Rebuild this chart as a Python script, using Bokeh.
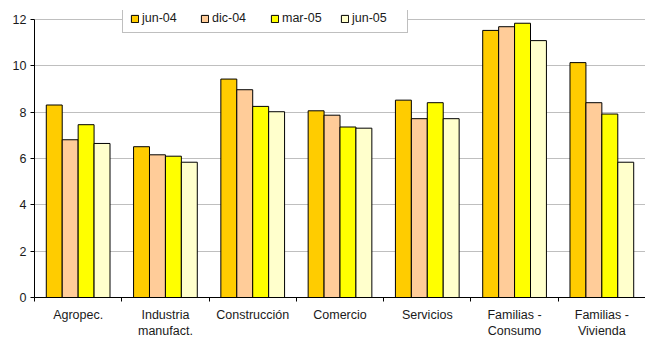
import numpy as np
from bokeh.plotting import figure
from bokeh.models import Range1d, FixedTicker, Legend, LegendItem, ColumnDataSource
from bokeh.embed import file_html
from bokeh.resources import INLINE

# Sectors (x categories) and the four reporting dates
categories = ["Agropec.", "Industria\nmanufact.", "Construcción", "Comercio",
              "Servicios", "Familias -\nConsumo", "Familias -\nVivienda"]
periods = ["jun-04", "dic-04", "mar-05", "jun-05"]

jun_04 = [8.31, 6.51, 9.43, 8.06, 8.52, 11.53, 10.14]
dic_04 = [6.81, 6.16, 8.97, 7.87, 7.72, 11.69, 8.41]
mar_05 = [7.46, 6.10, 8.25, 7.36, 8.41, 11.84, 7.92]
jun_05 = [6.65, 5.84, 8.02, 7.31, 7.72, 11.09, 5.84]
series = [jun_04, dic_04, mar_05, jun_05]

y_ticks = [0, 2, 4, 6, 8, 10, 12]
colors = ["#FFCC00", "#FFCC99", "#FFFF00", "#FFFFCC"]

FONT = "Liberation Sans"
FONT_SIZE = "12.5px"
TEXT_COLOR = "#1a1a1a"

# The frame reaches a little above 12 so the legend can sit over the top gridline;
# axis line and ticks stop at 12.
p = figure(frame_width=611, frame_height=287, output_backend="svg",
           toolbar_location=None,
           x_range=Range1d(0, len(categories)), y_range=Range1d(0, 12.39),
           min_border_left=34, min_border_right=0, min_border_top=10,
           min_border_bottom=40)
p.outline_line_color = None
p.background_fill_color = "white"
p.border_fill_color = "white"

bar_w = 0.1825
centers = np.arange(len(categories)) + 0.5
renderers = []
for k, (vals, col) in enumerate(zip(series, colors)):
    src = ColumnDataSource(dict(x=centers + (k - 1.5) * bar_w, top=vals))
    r = p.vbar(x="x", top="top", width=bar_w, bottom=0, source=src,
               fill_color=col, line_color="#000000", line_width=1)
    renderers.append(r)

# Horizontal gridlines only
p.xgrid.grid_line_color = None
p.ygrid.grid_line_color = "#BFBFBF"
p.ygrid.grid_line_width = 1
p.ygrid.ticker = FixedTicker(ticks=y_ticks)

# Y axis
ya = p.yaxis[0]
ya.ticker = FixedTicker(ticks=y_ticks)
ya.bounds = (0, 12)
ya.axis_line_color = "black"
ya.major_tick_line_color = "black"
ya.major_tick_out = 4
ya.major_tick_in = 0
ya.minor_tick_line_color = None
ya.major_label_standoff = 4
ya.major_label_text_font = FONT
ya.major_label_text_font_size = FONT_SIZE
ya.major_label_text_color = TEXT_COLOR

# X axis: labels at category centres, tick marks at category boundaries
xa = p.xaxis[0]
xa.ticker = FixedTicker(ticks=list(centers),
                        minor_ticks=list(range(len(categories) + 1)))
xa.major_label_overrides = {float(c): lab for c, lab in zip(centers, categories)}
xa.axis_line_color = "black"
xa.major_tick_in = 0
xa.major_tick_out = 0
xa.minor_tick_in = 0
xa.minor_tick_out = 4
xa.minor_tick_line_color = "black"
xa.major_label_standoff = 6
xa.major_label_text_font = FONT
xa.major_label_text_font_size = FONT_SIZE
xa.major_label_text_color = TEXT_COLOR
xa.major_label_text_line_height = 1.2

legend = Legend(
    items=[LegendItem(label=lab, renderers=[r]) for lab, r in zip(periods, renderers)],
    orientation="horizontal", location=(88, 264), margin=0,
    padding=7, spacing=10, glyph_width=9, glyph_height=9,
    label_standoff=3, label_width=48, label_height=9,
    label_text_font=FONT, label_text_font_size=FONT_SIZE,
    label_text_color=TEXT_COLOR,
    border_line_color="#808080", border_line_width=1,
    background_fill_color="white", background_fill_alpha=1.0,
)
p.add_layout(legend)

open("out.html", "w").write(file_html(p, INLINE))
